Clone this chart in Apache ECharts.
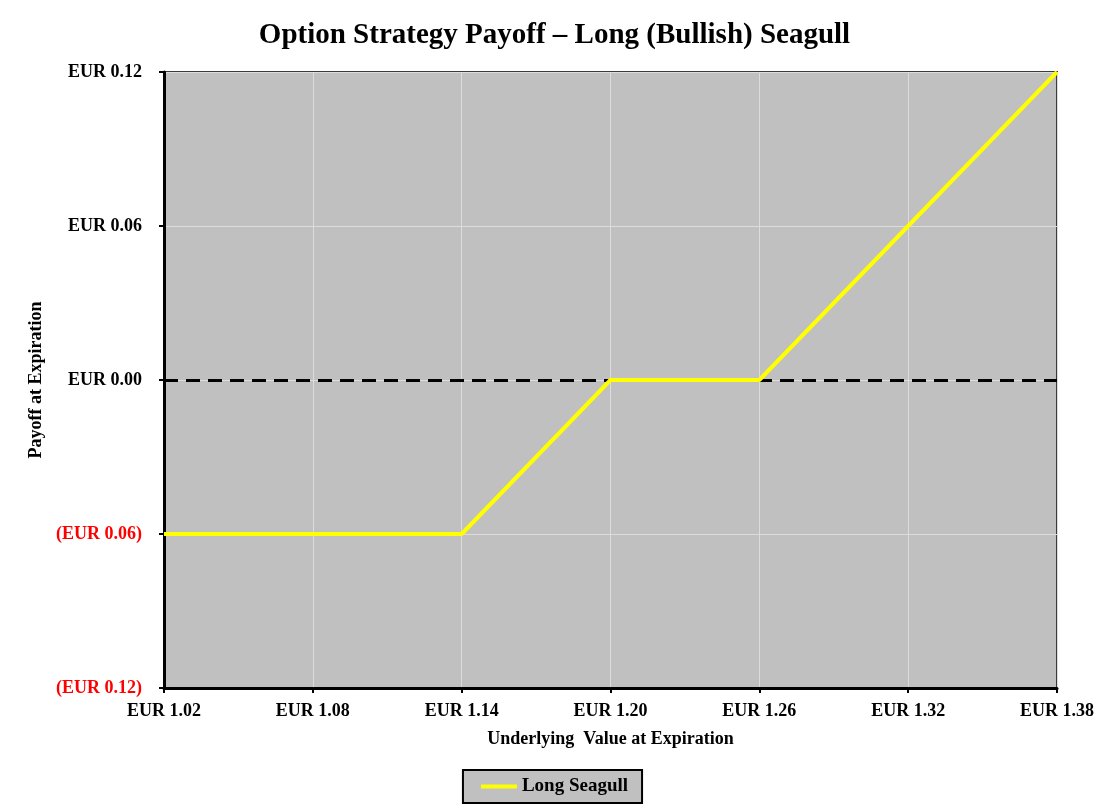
<!DOCTYPE html>
<html>
<head>
<meta charset="utf-8">
<title>Option Strategy Payoff – Long (Bullish) Seagull</title>
<script src="https://cdn.jsdelivr.net/npm/echarts@6/dist/echarts.min.js"></script>
<style>
  html, body { margin: 0; padding: 0; background: #fff; }
  #chart { width: 1109px; height: 810px; }
</style>
</head>
<body>
<div id="chart"></div>
<script>
// underlying price at expiration and payoff of the seagull
const underlying = [1.02, 1.08, 1.14, 1.20, 1.26, 1.32, 1.38]
const payoff = [-0.06, -0.06, -0.06, 0.00, 0.00, 0.06, 0.12]
const seriesName = 'Long Seagull'

const serif = '"Liberation Serif", "DejaVu Serif", serif'

const fmtEur = v => {
  const s = 'EUR ' + Math.abs(v).toFixed(2)
  return v < -1e-9 ? '(' + s + ')' : s
}

const chart = echarts.init(document.getElementById('chart'))

const option = {
  backgroundColor: '#fff',
  animation: false,
  title: {
    text: 'Option Strategy Payoff – Long (Bullish) Seagull',
    left: 'center',
    top: 16,
    textStyle: { fontFamily: serif, fontSize: 29, fontWeight: 'bold', color: '#000' }
  },
  legend: {
    data: [seriesName],
    bottom: 7,
    left: 'center',
    backgroundColor: '#c0c0c0',
    borderColor: '#000',
    borderWidth: 2,
    padding: [7, 14, 7, 18],
    icon: 'rect',
    itemWidth: 36,
    itemHeight: 4,
    itemGap: 4,
    textStyle: { fontFamily: serif, fontSize: 19, fontWeight: 'bold', color: '#000' }
  },
  grid: {
    left: 164,
    right: 52,
    top: 72,
    bottom: 122,
    show: true,
    backgroundColor: '#c0c0c0',
    borderColor: '#3a3a3a',
    borderWidth: 2
  },
  xAxis: {
    type: 'value',
    min: 1.02,
    max: 1.38,
    interval: 0.06,
    name: 'Underlying  Value at Expiration',
    nameLocation: 'middle',
    nameGap: 42,
    nameTextStyle: { fontFamily: serif, fontSize: 18, fontWeight: 'bold', color: '#000' },
    axisLine: { onZero: false, lineStyle: { color: '#000', width: 3 } },
    axisTick: { show: true, length: 5, lineStyle: { color: '#000', width: 2 } },
    axisLabel: {
      margin: 14,
      fontFamily: serif,
      fontSize: 18,
      fontWeight: 'bold',
      color: '#000',
      formatter: v => fmtEur(v)
    },
    splitLine: { show: true, lineStyle: { color: '#dcdcdc', width: 1 } }
  },
  yAxis: {
    type: 'value',
    min: -0.12,
    max: 0.12,
    interval: 0.06,
    name: 'Payoff at Expiration',
    nameLocation: 'middle',
    nameGap: 115,
    nameRotate: 90,
    nameTextStyle: { fontFamily: serif, fontSize: 18, fontWeight: 'bold', color: '#000' },
    axisLine: { show: true, onZero: false, lineStyle: { color: '#000', width: 3 } },
    axisTick: { show: true, length: 5, lineStyle: { color: '#000', width: 2 } },
    axisLabel: {
      margin: 22,
      fontFamily: serif,
      fontSize: 18,
      fontWeight: 'bold',
      color: v => (v < -1e-9 ? '#ff0000' : '#000'),
      formatter: v => fmtEur(v)
    },
    splitLine: { show: true, lineStyle: { color: '#dcdcdc', width: 1 } }
  },
  series: [
    {
      name: seriesName,
      type: 'line',
      data: underlying.map((x, i) => [x, payoff[i]]),
      showSymbol: false,
      symbol: 'none',
      lineStyle: { color: '#ffff00', width: 4 },
      itemStyle: { color: '#ffff00' },
      z: 3,
      markLine: {
        silent: true,
        symbol: 'none',
        label: { show: false },
        lineStyle: { color: '#000', type: [14, 8], width: 3 },
        data: [{ yAxis: 0 }],
        z: 2
      }
    }
  ]
}

chart.setOption(option)
</script>
</body>
</html>
